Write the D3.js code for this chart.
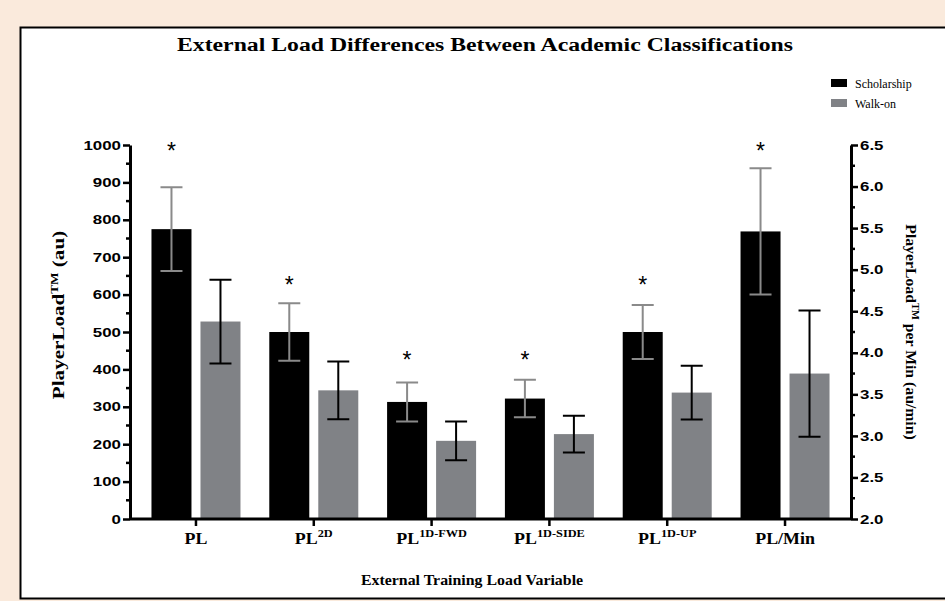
<!DOCTYPE html>
<html>
<head>
<meta charset="utf-8">
<script src="https://cdn.jsdelivr.net/npm/d3@7"></script>
<style>
  html, body { margin: 0; padding: 0; background: #FAEADC; }
  svg { display: block; }
</style>
</head>
<body>
<svg id="chart" width="945" height="601"></svg>
<script>
// ---- data ----
const categories = ["PL", "PL2D", "PL1D-FWD", "PL1D-SIDE", "PL1D-UP", "PL/Min"];
const labelBase = ["PL", "PL", "PL", "PL", "PL", "PL/Min"];
const labelSup = ["", "2D", "1D-FWD", "1D-SIDE", "1D-UP", ""];
const series = ["Scholarship", "Walk-on"];
const scholarship = [775, 500, 313, 322, 500, 5.46];
const scholarshipSD = [112, 77, 52, 50, 72, 0.76];
const walkOn = [528, 344, 209, 227, 338, 3.75];
const walkOnSD = [112, 77, 52, 49, 72, 0.76];
const rightAxisCategory = "PL/Min";
const starLevels = [995, 636, 436, 436, 636, 995]; // asterisk positions (left-axis units)
const leftTicks = [0, 100, 200, 300, 400, 500, 600, 700, 800, 900, 1000];
const rightTicks = [2.0, 2.5, 3.0, 3.5, 4.0, 4.5, 5.0, 5.5, 6.0, 6.5];

// ---- layout ----
const svg = d3.select("#chart");
const W = 945, H = 601;
const plot = { left: 130, right: 851, top: 145, bottom: 519 };
const colors = { "Scholarship": "#000000", "Walk-on": "#808286" };
const errColors = { "Scholarship": "#8a8a8a", "Walk-on": "#000000" };

// panel
svg.append("rect").attr("x", 21).attr("y", 28).attr("width", W - 21).attr("height", 570).attr("fill", "#ffffff");
svg.append("path").attr("d", `M${W},27.5 H20.5 V598.5 H${W}`).attr("fill", "none").attr("stroke", "#000").attr("stroke-width", 2);

const x0 = d3.scaleBand().domain(categories).range([plot.left, plot.right]).paddingInner(0).paddingOuter(0.06);
const x1 = d3.scaleBand().domain(series).range([-44.5, 44.5]).paddingInner(9 / 49);
const yL = d3.scaleLinear().domain([0, 1000]).range([plot.bottom, plot.top]);
const yR = d3.scaleLinear().domain([2, 6.5]).range([plot.bottom, plot.top]);
const yFor = c => c === rightAxisCategory ? yR : yL;

const rows = [];
categories.forEach((c, i) => {
  rows.push({ cat: c, s: "Scholarship", v: scholarship[i], sd: scholarshipSD[i] });
  rows.push({ cat: c, s: "Walk-on", v: walkOn[i], sd: walkOnSD[i] });
});

const g = svg.append("g");
// bars
g.selectAll("rect.bar").data(rows).join("rect")
  .attr("class", "bar")
  .attr("x", d => x0(d.cat) + x0.bandwidth() / 2 + x1(d.s))
  .attr("width", x1.bandwidth())
  .attr("y", d => yFor(d.cat)(d.v))
  .attr("height", d => yFor(d.cat)(yFor(d.cat).domain()[0]) - yFor(d.cat)(d.v))
  .attr("fill", d => colors[d.s]);

// error bars
const capW = 11;
const eb = g.selectAll("g.err").data(rows).join("g").attr("class", "err")
  .attr("stroke", d => errColors[d.s]).attr("stroke-width", 2).attr("fill", "none");
eb.append("path").attr("d", d => {
  const cx = x0(d.cat) + x0.bandwidth() / 2 + x1(d.s) + x1.bandwidth() / 2;
  const y = yFor(d.cat);
  const t = y(d.v + d.sd), b = y(d.v - d.sd);
  return `M${cx},${t}V${b}M${cx - capW},${t}H${cx + capW}M${cx - capW},${b}H${cx + capW}`;
});

// asterisks
g.selectAll("text.star").data(categories).join("text")
  .attr("class", "star")
  .attr("x", c => x0(c) + x0.bandwidth() / 2 + x1("Scholarship") + x1.bandwidth() / 2)
  .attr("y", (c, i) => yL(starLevels[i]) + 12)
  .attr("text-anchor", "middle")
  .style("font-family", "'Liberation Sans', Arial, sans-serif")
  .style("font-size", "23px")
  .attr("fill", "#000")
  .text("*");

// axes
const tickFont = "'Liberation Sans', Arial, sans-serif";
function styleAxis(sel) {
  sel.select(".domain").attr("stroke", "#000").attr("stroke-width", 3);
  sel.selectAll(".tick line").attr("stroke", "#000").attr("stroke-width", 2.5);
  sel.selectAll(".tick text").style("font-family", tickFont).style("font-size", "13px")
    .style("font-weight", "bold").attr("fill", "#000");
}
const axL = svg.append("g").attr("transform", `translate(${plot.left},0)`)
  .call(d3.axisLeft(yL).tickValues(leftTicks).tickSize(7).tickSizeOuter(0).tickPadding(2).tickFormat(d3.format("d")));
styleAxis(axL);
axL.selectAll(".tick text").attr("transform", `translate(-9,0) scale(1.3,1) translate(9,0)`);
axL.selectAll("line.minor").data(d3.range(50, 1000, 100)).join("line").attr("class", "minor")
  .attr("x1", -4).attr("x2", 0).attr("y1", d => yL(d)).attr("y2", d => yL(d))
  .attr("stroke", "#000").attr("stroke-width", 2.5);

const axR = svg.append("g").attr("transform", `translate(${plot.right},0)`)
  .call(d3.axisRight(yR).tickValues(rightTicks).tickSize(7).tickSizeOuter(0).tickPadding(2).tickFormat(d3.format(".1f")));
styleAxis(axR);
axR.selectAll(".tick text").attr("transform", `translate(9,0) scale(1.3,1) translate(-9,0)`);
axR.selectAll("line.minor").data(d3.range(2.25, 6.5, 0.5)).join("line").attr("class", "minor")
  .attr("x1", 0).attr("x2", 4).attr("y1", d => yR(d)).attr("y2", d => yR(d))
  .attr("stroke", "#000").attr("stroke-width", 2.5);

const axB = svg.append("g").attr("transform", `translate(0,${plot.bottom})`)
  .call(d3.axisBottom(x0).tickSize(7).tickSizeOuter(0).tickFormat(""));
axB.select(".domain").attr("stroke", "#000").attr("stroke-width", 3).attr("d", `M${plot.left},0H${plot.right}`);
axB.selectAll(".tick line").attr("stroke", "#000").attr("stroke-width", 2.5);

// x category labels with superscripts
const serif = "'Liberation Serif', 'Times New Roman', serif";
const xl = svg.append("g").selectAll("text").data(categories).join("text")
  .attr("transform", c => `translate(${x0(c) + x0.bandwidth() / 2},544) scale(1.12,1)`)
  .attr("text-anchor", "middle")
  .style("font-family", serif).style("font-weight", "bold").style("font-size", "16px")
  .attr("fill", "#000");
xl.each(function (c, i) {
  const t = d3.select(this);
  t.append("tspan").text(labelBase[i]);
  if (labelSup[i]) t.append("tspan").attr("dy", -7).style("font-size", "11px").text(labelSup[i]);
});

// titles
svg.append("text").attr("transform", "translate(485,51) scale(1.32,1)").attr("text-anchor", "middle")
  .style("font-family", serif).style("font-weight", "bold").style("font-size", "18px")
  .attr("fill", "#000").text("External Load Differences Between Academic Classifications");

svg.append("text").attr("transform", "translate(472,585) scale(1.06,1)").attr("text-anchor", "middle")
  .style("font-family", serif).style("font-weight", "bold").style("font-size", "15px")
  .attr("fill", "#000").text("External Training Load Variable");

const lt = svg.append("text").attr("transform", "translate(64,315) rotate(-90) scale(1.32,1)").attr("text-anchor", "middle")
  .style("font-family", serif).style("font-weight", "bold").style("font-size", "16px").attr("fill", "#000");
lt.append("tspan").text("PlayerLoad");
lt.append("tspan").attr("dy", -6).style("font-size", "10px").text("TM");
lt.append("tspan").attr("dy", 6).text(" (au)");

const rt = svg.append("text").attr("transform", "translate(906,332) rotate(90) scale(1.05,1)").attr("text-anchor", "middle")
  .style("font-family", serif).style("font-weight", "bold").style("font-size", "15px").attr("fill", "#000");
rt.append("tspan").text("PlayerLoad");
rt.append("tspan").attr("dy", -6).style("font-size", "10px").text("TM");
rt.append("tspan").attr("dy", 6).text(" per Min (au/min)");

// legend
const lg = svg.append("g").attr("transform", "translate(831,79)");
series.forEach((s, i) => {
  lg.append("rect").attr("x", 0).attr("y", i * 20).attr("width", 16).attr("height", 8).attr("fill", colors[s]);
  lg.append("text").attr("x", 24).attr("y", i * 20 + 9)
    .style("font-family", serif).style("font-size", "12px").attr("fill", "#000").text(s);
});
</script>
</body>
</html>
